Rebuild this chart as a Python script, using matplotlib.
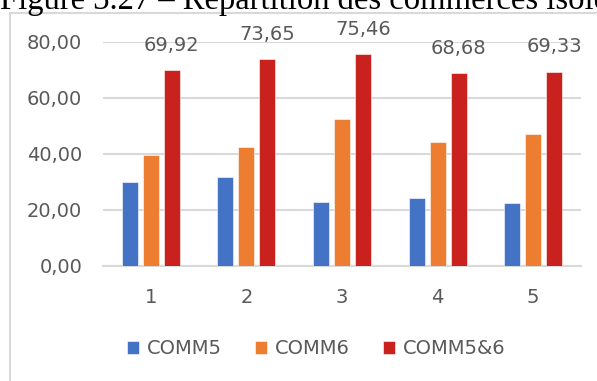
import matplotlib
matplotlib.use('Agg')
import matplotlib.pyplot as plt
from matplotlib.patches import Rectangle
import numpy as np

# Data
categories = ['1', '2', '3', '4', '5']
comm5 = [30.0, 31.6, 22.9, 24.2, 22.4]
comm6 = [39.5, 42.3, 52.3, 44.2, 46.9]
comm56 = [69.92, 73.65, 75.46, 68.68, 69.33]
series_names = ['COMM5', 'COMM6', 'COMM5&6']
colors = ['#4472C4', '#ED7D31', '#C9211E']
yticks = [0, 20, 40, 60, 80]

plt.rcParams['font.family'] = ['DejaVu Sans']
text_col = '#595959'
grid_col = '#d9d9d9'
fs = 14

W, H = 597, 381
fig = plt.figure(figsize=(W / 100, H / 100), dpi=100)

# Caption of the figure, cut off at the top edge
fig.text(0.0, 1 - 9.5 / H, 'Figure 3.27 – Répartition des commerces isolés',
         family='Liberation Serif', fontsize=23.5, color='black',
         ha='left', va='baseline')

# Chart border
fig.patches.append(Rectangle((10 / W, -0.1), 1.0, 1 - 13 / H + 0.1,
                             transform=fig.transFigure, fill=False,
                             edgecolor=grid_col, linewidth=1.5))

ax = fig.add_axes([103 / W, (H - 265.7) / H, 478 / W, 224 / H])

x = np.arange(len(categories))
w = 0.168
step = 0.22
for i, (vals, name, c) in enumerate(zip([comm5, comm6, comm56], series_names, colors)):
    bars = ax.bar(x + (i - 1) * step, vals, width=w, color=c, label=name,
                  edgecolor='white', linewidth=0.4, zorder=3)
    if name == 'COMM5&6':
        for b, v in zip(bars, vals):
            ax.annotate(f'{v:.2f}'.replace('.', ','),
                        (b.get_x() + b.get_width() / 2, v),
                        xytext=(0, 11), textcoords='offset points',
                        ha='center', va='bottom', fontsize=fs, color=text_col)

ax.set_xlim(-0.5, len(categories) - 0.5)
ax.set_ylim(0, 80)
ax.set_yticks(yticks)
ax.set_yticklabels([f'{t:.2f}'.replace('.', ',') for t in yticks])
ax.set_xticks(x)
ax.set_xticklabels(categories)
ax.tick_params(axis='y', length=0, pad=15, labelsize=fs, labelcolor=text_col)
ax.tick_params(axis='x', length=0, pad=16, labelsize=fs, labelcolor=text_col)
ax.grid(axis='y', color=grid_col, linewidth=1.5, zorder=0)
for s in ['top', 'right', 'left']:
    ax.spines[s].set_visible(False)
ax.spines['bottom'].set_color(grid_col)
ax.spines['bottom'].set_linewidth(1.5)

fig.legend(loc='center', bbox_to_anchor=(316 / W, 1 - 349 / H), ncol=3,
           frameon=False, fontsize=fs, labelcolor=text_col,
           handlelength=0.62, handleheight=0.62, handletextpad=0.41,
           columnspacing=1.7, borderpad=0, borderaxespad=0)

fig.savefig('out.png', dpi=100)
